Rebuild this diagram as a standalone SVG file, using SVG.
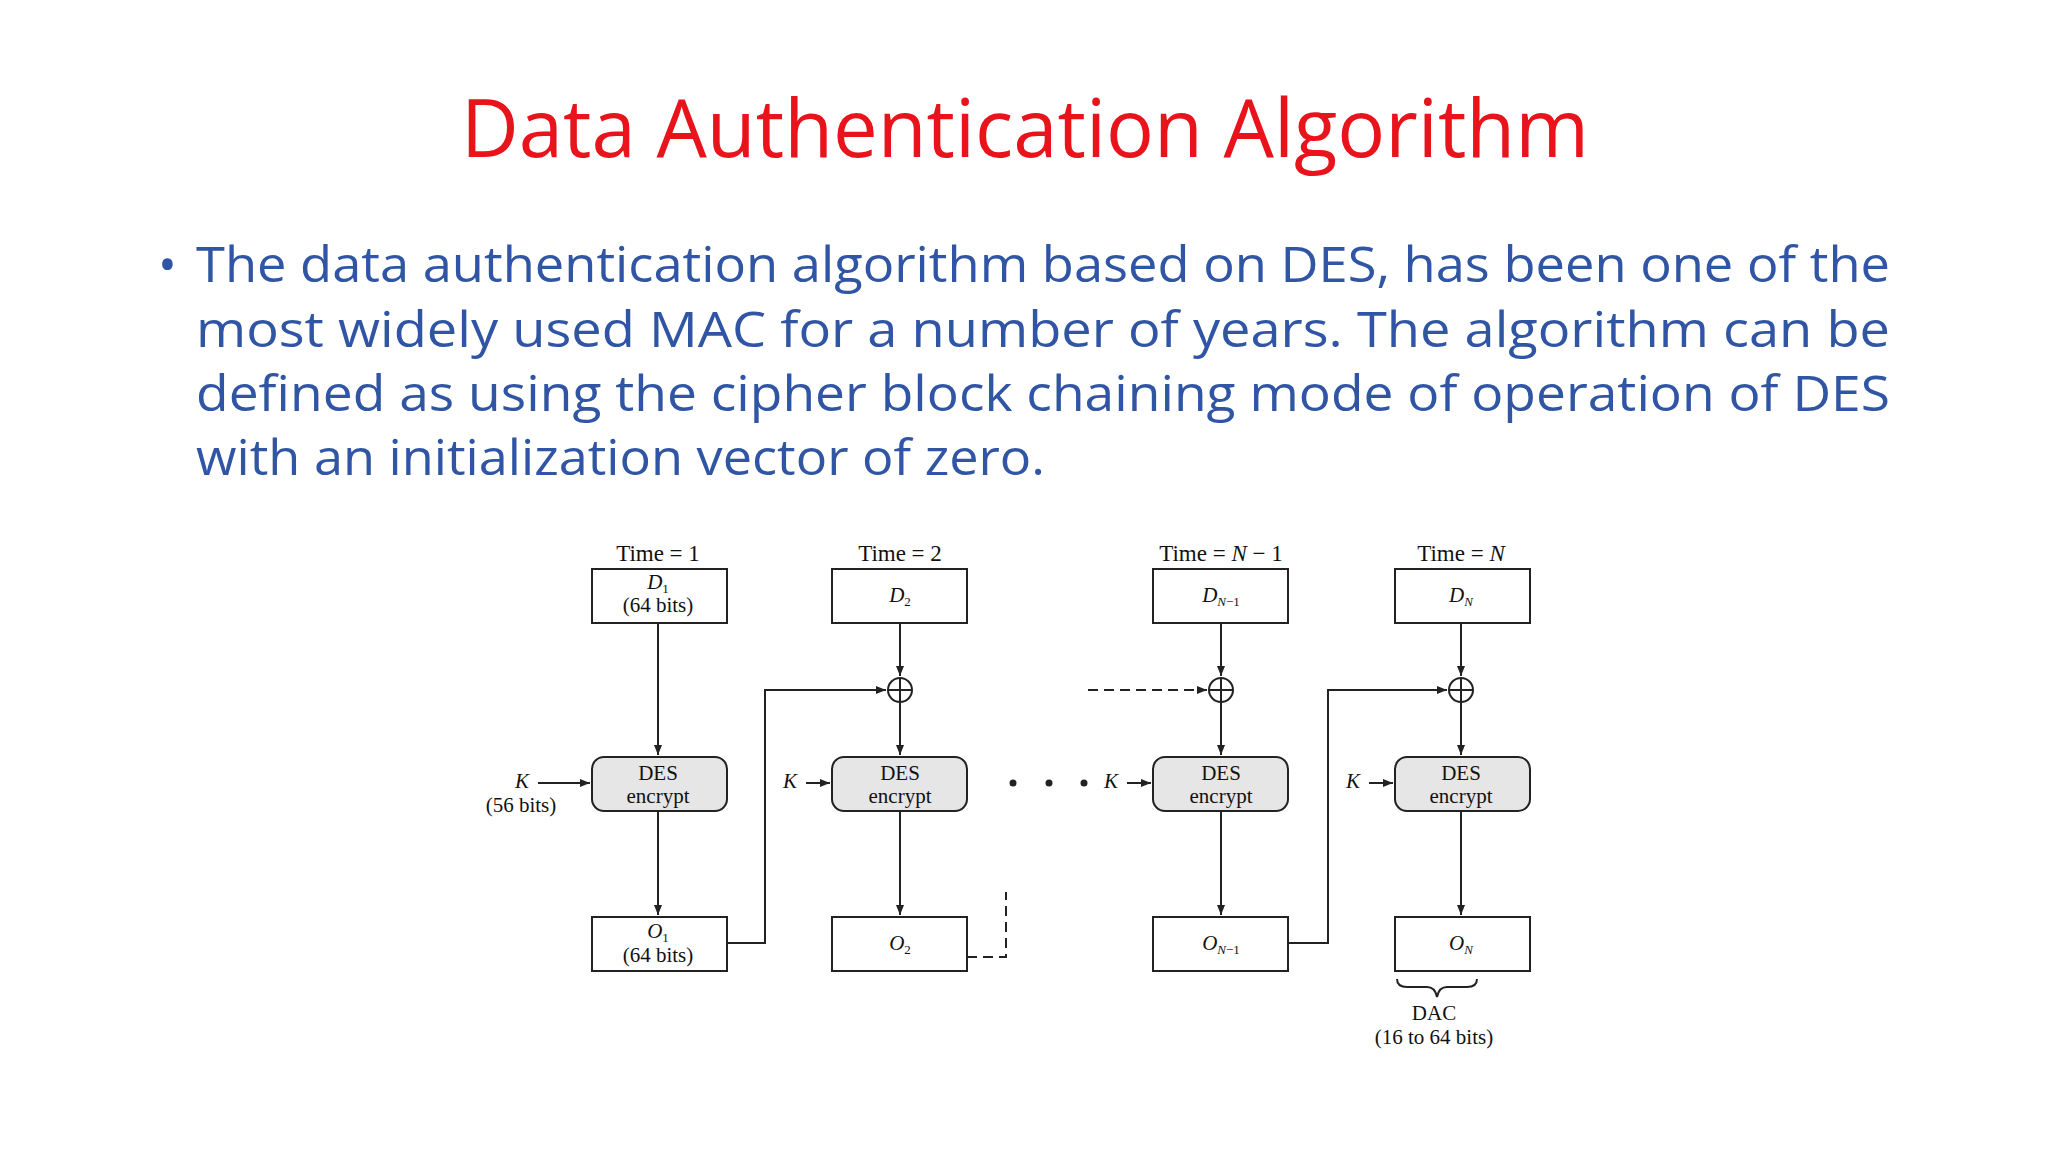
<svg xmlns="http://www.w3.org/2000/svg" width="2048" height="1152" viewBox="0 0 2048 1152">
<style>
.t{font-family:"Liberation Serif",serif;font-size:21px;fill:#111;text-anchor:middle}
.ti{font-family:"Liberation Serif",serif;font-size:23px;fill:#111;text-anchor:middle}
.b{fill:#fff;stroke:#222;stroke-width:2}
.d{fill:#e6e6e6;stroke:#222;stroke-width:2}
.l{fill:none;stroke:#222;stroke-width:2}
.body{font-family:"Open Sans","Liberation Sans",sans-serif;font-size:50px;fill:#2f55a4}
</style>
<defs><marker id="a" markerWidth="10" markerHeight="8" refX="10" refY="4" orient="auto" markerUnits="userSpaceOnUse"><path d="M0,0L10,4L0,8z" fill="#222"/></marker></defs>
<rect width="2048" height="1152" fill="#fff"/>
<text x="1025" y="157" font-family="Open Sans,Liberation Sans,sans-serif" font-size="80" fill="#e8131b" text-anchor="middle" textLength="1128" lengthAdjust="spacingAndGlyphs">Data Authentication Algorithm</text>
<g id="text">
<text x="158" y="282" class="body">•</text>
<text x="196" y="282" class="body" textLength="1694" lengthAdjust="spacingAndGlyphs">The data authentication algorithm based on DES, has been one of the</text>
<text x="196" y="347" class="body" textLength="1694" lengthAdjust="spacingAndGlyphs">most widely used MAC for a number of years. The algorithm can be</text>
<text x="196" y="411" class="body" textLength="1694" lengthAdjust="spacingAndGlyphs">defined as using the cipher block chaining mode of operation of DES</text>
<text x="196" y="475" class="body" textLength="849" lengthAdjust="spacingAndGlyphs">with an initialization vector of zero.</text>
</g>
<g id="labels">
<text x="658" y="561" class="ti">Time = 1</text>
<text x="900" y="561" class="ti">Time = 2</text>
<text x="1221" y="561" class="ti">Time = <tspan font-style="italic">N</tspan> − 1</text>
<text x="1461" y="561" class="ti">Time = <tspan font-style="italic">N</tspan></text>
</g>
<g id="col1">
<rect class="b" x="592" y="569" width="135" height="54"/>
<text x="658" y="589" class="t"><tspan font-style="italic">D</tspan><tspan font-size="13" dy="4">1</tspan></text>
<text x="658" y="612" class="t">(64 bits)</text>
<rect class="d" x="592" y="757" width="135" height="54" rx="12"/>
<text x="658" y="780" class="t">DES</text><text x="658" y="803" class="t">encrypt</text>
<rect class="b" x="592" y="917" width="135" height="54"/>
<text x="658" y="938" class="t"><tspan font-style="italic">O</tspan><tspan font-size="13" dy="4">1</tspan></text>
<text x="658" y="962" class="t">(64 bits)</text>
<text x="522" y="788" class="t" font-style="italic">K</text>
<text x="521" y="812" class="t">(56 bits)</text>
</g>
<g id="col2">
<rect class="b" x="832" y="569" width="135" height="54"/>
<text x="900" y="602" class="t"><tspan font-style="italic">D</tspan><tspan font-size="13" dy="4">2</tspan></text>
<circle class="l" cx="900" cy="690" r="12"/><path class="l" d="M888,690H912M900,678V702"/>
<rect class="d" x="832" y="757" width="135" height="54" rx="12"/>
<text x="900" y="780" class="t">DES</text><text x="900" y="803" class="t">encrypt</text>
<rect class="b" x="832" y="917" width="135" height="54"/>
<text x="900" y="950" class="t"><tspan font-style="italic">O</tspan><tspan font-size="13" dy="4">2</tspan></text>
<text x="790" y="788" class="t" font-style="italic">K</text>
</g>
<g id="col3">
<rect class="b" x="1153" y="569" width="135" height="54"/>
<text x="1221" y="602" class="t"><tspan font-style="italic">D</tspan><tspan font-size="13" dy="4"><tspan font-style="italic">N</tspan>−1</tspan></text>
<circle class="l" cx="1221" cy="690" r="12"/><path class="l" d="M1209,690H1233M1221,678V702"/>
<rect class="d" x="1153" y="757" width="135" height="54" rx="12"/>
<text x="1221" y="780" class="t">DES</text><text x="1221" y="803" class="t">encrypt</text>
<rect class="b" x="1153" y="917" width="135" height="54"/>
<text x="1221" y="950" class="t"><tspan font-style="italic">O</tspan><tspan font-size="13" dy="4"><tspan font-style="italic">N</tspan>−1</tspan></text>
<text x="1111" y="788" class="t" font-style="italic">K</text>
<circle cx="1013" cy="783" r="3.5" fill="#222"/><circle cx="1049" cy="783" r="3.5" fill="#222"/><circle cx="1084" cy="783" r="3.5" fill="#222"/>
</g>
<g id="col4">
<rect class="b" x="1395" y="569" width="135" height="54"/>
<text x="1461" y="602" class="t"><tspan font-style="italic">D</tspan><tspan font-size="13" dy="4" font-style="italic">N</tspan></text>
<circle class="l" cx="1461" cy="690" r="12"/><path class="l" d="M1449,690H1473M1461,678V702"/>
<rect class="d" x="1395" y="757" width="135" height="54" rx="12"/>
<text x="1461" y="780" class="t">DES</text><text x="1461" y="803" class="t">encrypt</text>
<rect class="b" x="1395" y="917" width="135" height="54"/>
<text x="1461" y="950" class="t"><tspan font-style="italic">O</tspan><tspan font-size="13" dy="4" font-style="italic">N</tspan></text>
<text x="1353" y="788" class="t" font-style="italic">K</text>
<path class="l" d="M1397,979q0,8 10,8h20q8,0 10,10q2,-10 10,-10h20q10,0 10,-8"/>
<text x="1434" y="1020" class="t">DAC</text>
<text x="1434" y="1044" class="t">(16 to 64 bits)</text>
</g>
<g id="connectors">
<path class="l" d="M658,623V755" marker-end="url(#a)"/>
<path class="l" d="M658,811V915" marker-end="url(#a)"/>
<path class="l" d="M900,623V676" marker-end="url(#a)"/>
<path class="l" d="M900,702V755" marker-end="url(#a)"/>
<path class="l" d="M900,811V915" marker-end="url(#a)"/>
<path class="l" d="M1221,623V676" marker-end="url(#a)"/>
<path class="l" d="M1221,702V755" marker-end="url(#a)"/>
<path class="l" d="M1221,811V915" marker-end="url(#a)"/>
<path class="l" d="M1461,623V676" marker-end="url(#a)"/>
<path class="l" d="M1461,702V755" marker-end="url(#a)"/>
<path class="l" d="M1461,811V915" marker-end="url(#a)"/>
<path class="l" d="M538,783H590" stroke-width="3" marker-end="url(#a)"/>
<path class="l" d="M806,783H830" stroke-width="3" marker-end="url(#a)"/>
<path class="l" d="M1127,783H1151" stroke-width="3" marker-end="url(#a)"/>
<path class="l" d="M1369,783H1393" stroke-width="3" marker-end="url(#a)"/>
<path class="l" d="M727,943H765V690H886" marker-end="url(#a)"/>
<path class="l" d="M1288,943H1328V690H1447" marker-end="url(#a)"/>
<path class="l" d="M967,957H1006V892" stroke-dasharray="10,6"/>
<path class="l" d="M1088,690H1207" stroke-dasharray="10,6" marker-end="url(#a)"/>
</g>
</svg>
